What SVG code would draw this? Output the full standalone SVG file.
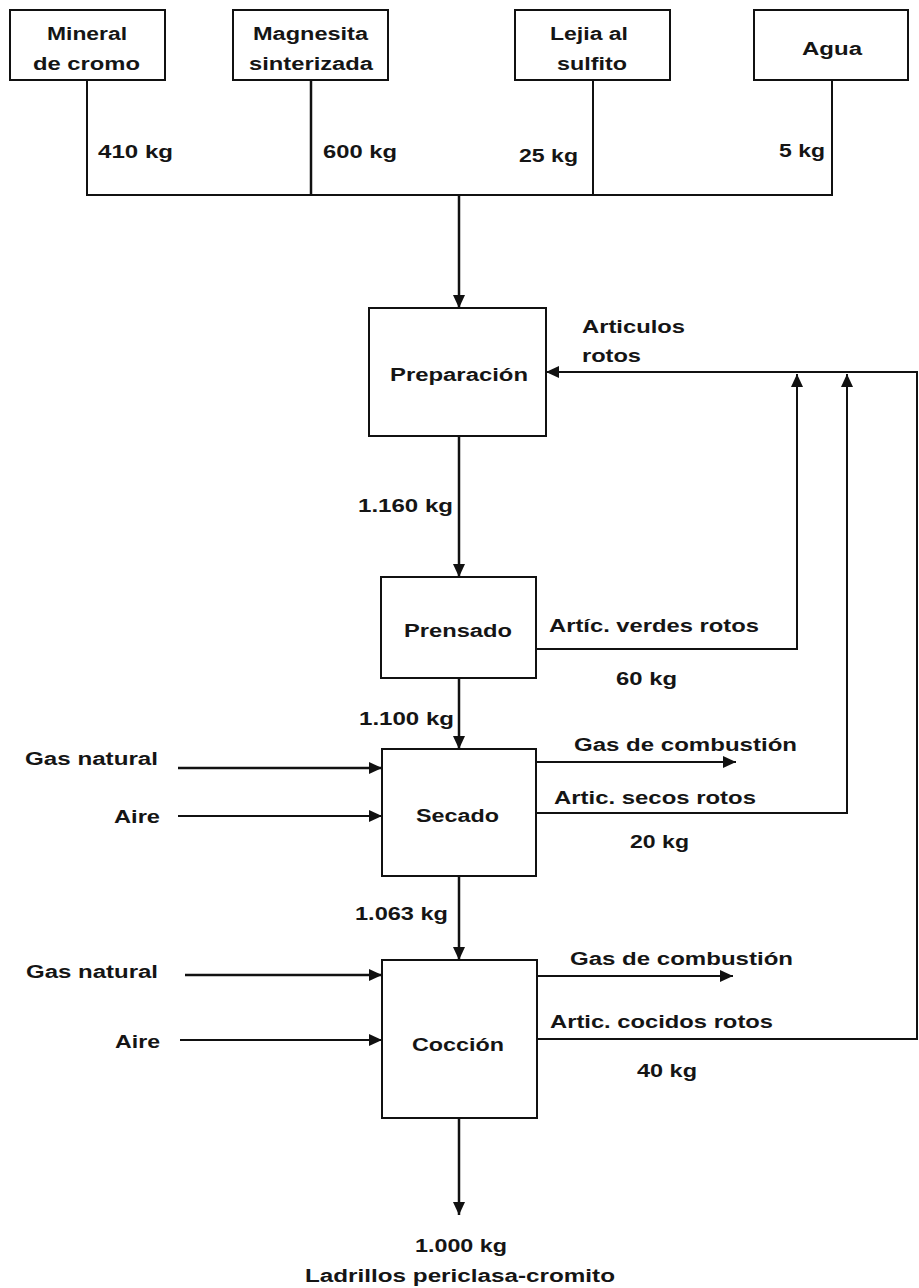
<svg xmlns="http://www.w3.org/2000/svg" width="919" height="1288" viewBox="0 0 919 1288">
  <style>
    .box { fill: #ffffff; stroke: #111; stroke-width: 2; }
    .ln { fill: none; stroke: #111; stroke-width: 2; }
    .main { fill: none; stroke: #111; stroke-width: 2.5; }
    .t { font-family: "Liberation Sans", Arial, sans-serif; font-size: 18px; font-weight: bold; fill: #151515; }
  </style>
  <defs>
    <marker id="ah" markerUnits="userSpaceOnUse" markerWidth="13" markerHeight="12" refX="13" refY="6" orient="auto">
      <path d="M0,0 L13,6 L0,12 z" fill="#111"/>
    </marker>
  </defs>
  <rect width="919" height="1288" fill="#ffffff"/>

  <!-- raw material inputs -->
  <g id="mineral">
    <rect class="box" x="10" y="10" width="155" height="70"/>
    <text class="t" x="47" y="40" textLength="80" lengthAdjust="spacingAndGlyphs">Mineral</text>
    <text class="t" x="33" y="70" textLength="107" lengthAdjust="spacingAndGlyphs">de cromo</text>
  </g>
  <g id="magnesita">
    <rect class="box" x="233" y="10" width="155" height="70"/>
    <text class="t" x="253" y="40" textLength="115" lengthAdjust="spacingAndGlyphs">Magnesita</text>
    <text class="t" x="249" y="70" textLength="124" lengthAdjust="spacingAndGlyphs">sinterizada</text>
  </g>
  <g id="lejia">
    <rect class="box" x="515" y="10" width="155" height="70"/>
    <text class="t" x="550" y="40" textLength="78" lengthAdjust="spacingAndGlyphs">Lejia al</text>
    <text class="t" x="557" y="70" textLength="70" lengthAdjust="spacingAndGlyphs">sulfito</text>
  </g>
  <g id="agua">
    <rect class="box" x="754" y="10" width="154" height="70"/>
    <text class="t" x="802" y="55" textLength="60" lengthAdjust="spacingAndGlyphs">Agua</text>
  </g>

  <!-- process steps -->
  <g id="preparacion">
    <rect class="box" x="369" y="308" width="177" height="128"/>
    <text class="t" x="390" y="381" textLength="138" lengthAdjust="spacingAndGlyphs">Preparación</text>
  </g>
  <g id="prensado">
    <rect class="box" x="381" y="577" width="155" height="101"/>
    <text class="t" x="404" y="637" textLength="108" lengthAdjust="spacingAndGlyphs">Prensado</text>
  </g>
  <g id="secado">
    <rect class="box" x="382" y="749" width="154" height="127"/>
    <text class="t" x="416" y="822" textLength="83" lengthAdjust="spacingAndGlyphs">Secado</text>
  </g>
  <g id="coccion">
    <rect class="box" x="382" y="960" width="155" height="158"/>
    <text class="t" x="412" y="1051" textLength="92" lengthAdjust="spacingAndGlyphs">Cocción</text>
  </g>

  <!-- flows -->
  <g id="connectors">
    <!-- feed manifold -->
    <path class="ln" d="M87,80 V195 H832 V80"/>
    <path class="main" d="M311,80 V195"/>
    <path class="ln" d="M593,80 V195"/>
    <path class="main" d="M459,195 V308" marker-end="url(#ah)"/>

    <!-- main line -->
    <path class="main" d="M459,436 V577" marker-end="url(#ah)"/>
    <path class="main" d="M459,678 V749" marker-end="url(#ah)"/>
    <path class="main" d="M459,876 V960" marker-end="url(#ah)"/>
    <path class="main" d="M459,1118 V1215" marker-end="url(#ah)"/>

    <!-- fuel and air feeds -->
    <path class="main" d="M178,768 H382" marker-end="url(#ah)"/>
    <path class="ln" d="M178,816 H382" marker-end="url(#ah)"/>
    <path class="main" d="M185,975 H382" marker-end="url(#ah)"/>
    <path class="ln" d="M180,1040 H382" marker-end="url(#ah)"/>

    <!-- flue gas -->
    <path class="ln" d="M536,762 H736" marker-end="url(#ah)"/>
    <path class="ln" d="M537,976 H733" marker-end="url(#ah)"/>

    <!-- broken ware recycle -->
    <path class="ln" d="M537,1039 H917 V372 H546" marker-end="url(#ah)"/>
    <path class="ln" d="M536,649 H797 V374" marker-end="url(#ah)"/>
    <path class="ln" d="M536,813 H847 V374" marker-end="url(#ah)"/>
  </g>

  <!-- flow labels -->
  <g id="labels">
    <text class="t" x="98" y="158" textLength="75" lengthAdjust="spacingAndGlyphs">410 kg</text>
    <text class="t" x="323" y="158" textLength="74" lengthAdjust="spacingAndGlyphs">600 kg</text>
    <text class="t" x="519" y="162" textLength="59" lengthAdjust="spacingAndGlyphs">25 kg</text>
    <text class="t" x="779" y="157" textLength="46" lengthAdjust="spacingAndGlyphs">5 kg</text>

    <text class="t" x="582" y="333" textLength="103" lengthAdjust="spacingAndGlyphs">Articulos</text>
    <text class="t" x="582" y="362" textLength="59" lengthAdjust="spacingAndGlyphs">rotos</text>

    <text class="t" x="358" y="512" textLength="95" lengthAdjust="spacingAndGlyphs">1.160 kg</text>
    <text class="t" x="549" y="632" textLength="210" lengthAdjust="spacingAndGlyphs">Artíc. verdes rotos</text>
    <text class="t" x="616" y="685" textLength="61" lengthAdjust="spacingAndGlyphs">60 kg</text>

    <text class="t" x="359" y="725" textLength="95" lengthAdjust="spacingAndGlyphs">1.100 kg</text>
    <text class="t" x="25" y="765" textLength="133" lengthAdjust="spacingAndGlyphs">Gas natural</text>
    <text class="t" x="114" y="823" textLength="46" lengthAdjust="spacingAndGlyphs">Aire</text>
    <text class="t" x="574" y="751" textLength="223" lengthAdjust="spacingAndGlyphs">Gas de combustión</text>
    <text class="t" x="554" y="804" textLength="202" lengthAdjust="spacingAndGlyphs">Artic. secos rotos</text>
    <text class="t" x="630" y="848" textLength="59" lengthAdjust="spacingAndGlyphs">20 kg</text>

    <text class="t" x="355" y="920" textLength="93" lengthAdjust="spacingAndGlyphs">1.063 kg</text>
    <text class="t" x="26" y="978" textLength="132" lengthAdjust="spacingAndGlyphs">Gas natural</text>
    <text class="t" x="115" y="1048" textLength="45" lengthAdjust="spacingAndGlyphs">Aire</text>
    <text class="t" x="570" y="965" textLength="223" lengthAdjust="spacingAndGlyphs">Gas de combustión</text>
    <text class="t" x="550" y="1028" textLength="223" lengthAdjust="spacingAndGlyphs">Artic. cocidos rotos</text>
    <text class="t" x="637" y="1077" textLength="60" lengthAdjust="spacingAndGlyphs">40 kg</text>

    <text class="t" x="415" y="1252" textLength="92" lengthAdjust="spacingAndGlyphs">1.000 kg</text>
    <text class="t" x="305" y="1282" textLength="310" lengthAdjust="spacingAndGlyphs">Ladrillos periclasa-cromito</text>
  </g>
</svg>
